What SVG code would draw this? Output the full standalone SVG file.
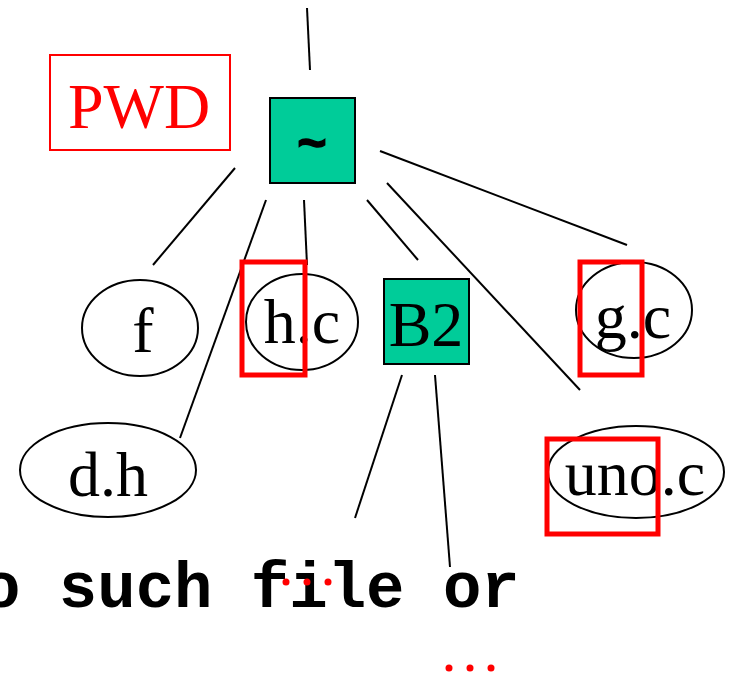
<svg xmlns="http://www.w3.org/2000/svg" width="731" height="677" viewBox="0 0 731 677">
  <style>
    .edge { stroke: #000; stroke-width: 2; fill: none; }
    .dir { fill: #00CC99; stroke: #000; stroke-width: 2; }
    .file { fill: none; stroke: #000; stroke-width: 2; }
    .lbl { font-family: "Liberation Serif", "Times New Roman", serif; font-size: 64px; fill: #000; text-anchor: middle; }
    .hl { fill: none; stroke: #FF0000; stroke-width: 5; }
    .mono { font-family: "Liberation Mono", "Courier New", monospace; font-weight: bold; fill: #000; }
    .dots { fill: #FF0000; }
  </style>
  <rect width="731" height="677" fill="#fff"/>

  <g id="connectors">
    <line class="edge" x1="307" y1="8" x2="310" y2="70"/>
    <line class="edge" x1="235" y1="168" x2="153" y2="265"/>
    <line class="edge" x1="266" y1="200" x2="180" y2="438"/>
    <line class="edge" x1="304" y1="200" x2="307" y2="265"/>
    <line class="edge" x1="367" y1="200" x2="418" y2="260"/>
    <line class="edge" x1="387" y1="183" x2="580" y2="390"/>
    <line class="edge" x1="380" y1="151" x2="627" y2="245"/>
    <line class="edge" x1="402" y1="375" x2="355" y2="518"/>
    <line class="edge" x1="435" y1="375" x2="450" y2="567"/>
  </g>

  <g id="pwd">
    <rect x="50" y="55" width="180" height="95" fill="none" stroke="#FF0000" stroke-width="2"/>
    <text x="139" y="128" class="lbl" style="fill:#FF0000">PWD</text>
  </g>

  <g id="home">
    <rect class="dir" x="270" y="98" width="85" height="85"/>
    <text x="312" y="160" class="mono" font-size="50" text-anchor="middle" stroke="#000" stroke-width="1.5">~</text>
  </g>

  <g id="f">
    <ellipse class="file" cx="140" cy="328" rx="58" ry="48"/>
    <text x="143" y="352" class="lbl">f</text>
  </g>

  <g id="h_c">
    <ellipse class="file" cx="302" cy="322" rx="56" ry="48"/>
    <text x="302" y="343" class="lbl">h.c</text>
    <rect class="hl" x="242" y="262" width="63" height="113"/>
  </g>

  <g id="B2">
    <rect class="dir" x="384" y="279" width="85" height="85"/>
    <text x="426" y="346" class="lbl">B2</text>
  </g>

  <g id="g_c">
    <ellipse class="file" cx="634" cy="310" rx="58" ry="48"/>
    <text x="633" y="338" class="lbl">g.c</text>
    <rect class="hl" x="580" y="262" width="62" height="113"/>
  </g>

  <g id="d_h">
    <ellipse class="file" cx="108" cy="470" rx="88" ry="47"/>
    <text x="108" y="496" class="lbl">d.h</text>
  </g>

  <g id="uno_c">
    <ellipse class="file" cx="636" cy="472" rx="88" ry="46"/>
    <text x="635" y="495" class="lbl">uno.c</text>
    <rect class="hl" x="547" y="439" width="111" height="95"/>
  </g>

  <g id="message">
    <text x="-18" y="607" class="mono" font-size="64">o such file or</text>
    <circle class="dots" cx="286" cy="582" r="3.5"/>
    <circle class="dots" cx="307" cy="582" r="3.5"/>
    <circle class="dots" cx="328" cy="582" r="3.5"/>
    <circle class="dots" cx="449" cy="668" r="3.5"/>
    <circle class="dots" cx="470" cy="668" r="3.5"/>
    <circle class="dots" cx="491" cy="668" r="3.5"/>
  </g>
</svg>
